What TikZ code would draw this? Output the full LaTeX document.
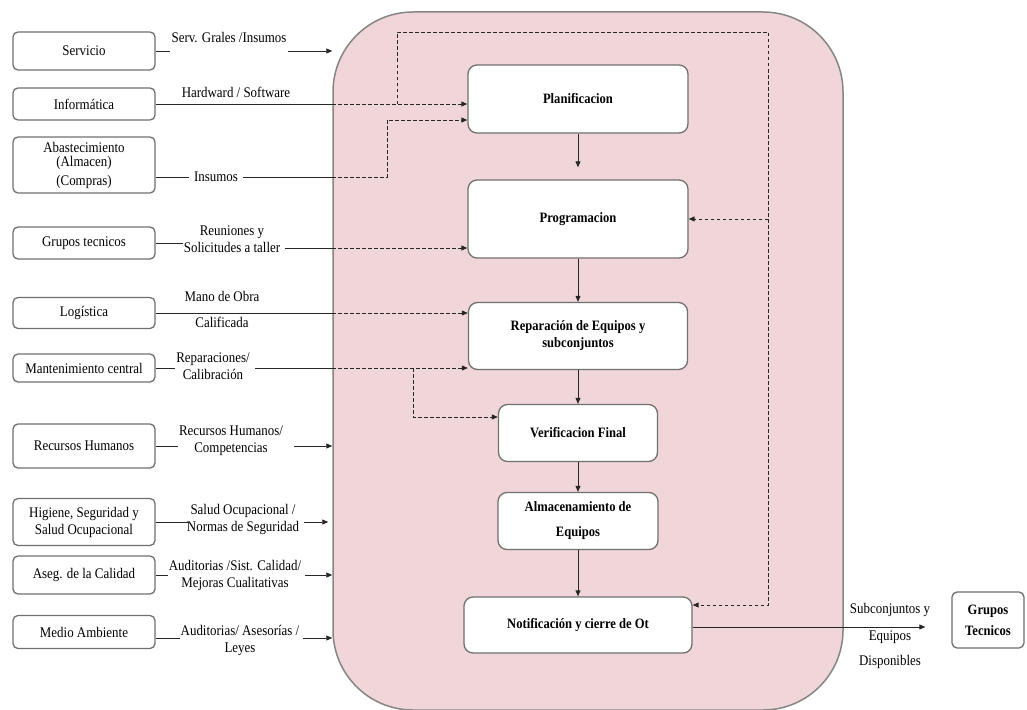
\documentclass[tikz,border=0pt]{standalone}
\usepackage{fontspec}
\setmainfont{Liberation Serif}[FakeStretch=0.88]
\usetikzlibrary{arrows.meta,calc}
\definecolor{procfill}{HTML}{F1D6D9}
\definecolor{edgegray}{HTML}{707070}
\definecolor{outergray}{HTML}{858585}
\begin{document}
\begin{tikzpicture}[x=1pt,y=-1pt,
  font=\fontsize{14.7}{17}\selectfont,
  srcbox/.style={draw=edgegray, line width=1.3pt, rounded corners=5pt,
    minimum width=142pt, align=center, inner sep=1pt, fill=white},
  stepbox/.style={draw=edgegray, line width=1.3pt, rounded corners=9pt,
    fill=white, align=center, inner sep=1pt,
    font=\fontsize{14.3}{17}\selectfont\bfseries},
  lbl/.style={align=center, inner sep=1pt},
  link/.style={draw=black!85, line width=0.9pt},
  tip/.style={-{Triangle[length=6pt,width=5pt]}},
  feed/.style={dash pattern=on 3.5pt off 2.5pt}
]
\useasboundingbox (0,0) rectangle (1027,709);

% process area
\node[draw=outergray, line width=1.5pt, fill=procfill, rounded corners=80pt,
  minimum width=510pt, minimum height=698pt, inner sep=0pt] (proc) at (588,361) {};

% source units
\node[srcbox, minimum height=38pt] (serv) at (84,51) {Servicio};
\node[srcbox, minimum height=32pt] (info) at (84,104) {Informática};
\node[srcbox, minimum height=56pt,
  font=\fontsize{14.7}{14}\selectfont] (abast) at (84,165) {Abastecimiento\\(Almacen)\\[5pt](Compras)};
\node[srcbox, minimum height=32pt] (gtec) at (84,243) {Grupos tecnicos};
\node[srcbox, minimum height=31pt] (logi) at (84,313) {Logística};
\node[srcbox, minimum height=28pt] (mant) at (84,368) {Mantenimiento central};
\node[srcbox, minimum height=44pt] (rrhh) at (84,446) {Recursos Humanos};
\node[srcbox, minimum height=47pt] (hig) at (84,522) {Higiene, Seguridad y\\Salud Ocupacional};
\node[srcbox, minimum height=38pt] (aseg) at (84,575) {Aseg. de la Calidad};
\node[srcbox, minimum height=33pt] (medio) at (84,632) {Medio Ambiente};

% input labels
\node[lbl] (servL) at (229,38) {Serv. Grales /Insumos};
\node[lbl] (infoL) at (236,92) {Hardward / Software};
\node[lbl] (abastL) at (216,177) {Insumos};
\node[lbl] (gtecL) at (232,239) {Reuniones y\\Solicitudes a taller};
\node[lbl] (logiL1) at (222,296) {Mano de Obra};
\node[lbl] (logiL2) at (222,322) {Calificada};
\node[lbl] (mantL) at (213,366) {Reparaciones/\\Calibración};
\node[lbl] (rrhhL) at (231,441) {Recursos Humanos/\\Competencias};
\node[lbl] (higL) at (243,519) {Salud Ocupacional /\\Normas de Seguridad};
\node[lbl] (asegL) at (235,575) {Auditorias /Sist. Calidad/\\Mejoras Cualitativas};
\node[lbl] (medioL) at (240,640) {Auditorias/ Asesorías /\\Leyes};

% process steps
\node[stepbox, minimum width=220pt, minimum height=68pt] (plan) at (578,99) {Planificacion};
\node[stepbox, minimum width=220pt, minimum height=78pt] (prog) at (578,219) {Programacion};
\node[stepbox, minimum width=219pt, minimum height=67pt] (rep) at (578,336) {Reparación de Equipos y\\subconjuntos};
\node[stepbox, minimum width=159pt, minimum height=57pt] (ver) at (578,433) {Verificacion Final};
\node[stepbox, minimum width=160pt, minimum height=57pt] (alm) at (578,521) {Almacenamiento de\\[8pt]Equipos};
\node[stepbox, minimum width=228pt, minimum height=56pt] (noti) at (578,625) {Notificación y cierre de Ot};

% output
\node[srcbox, minimum width=72pt, minimum height=56pt,
  font=\fontsize{14.3}{17}\selectfont\bfseries] (gt) at (988,620) {Grupos\\[4pt]Tecnicos};
\node[lbl] (outL) at (890,636) {Subconjuntos y\\[10pt]Equipos\\[8pt]Disponibles};

% routing points
\coordinate (loopL) at (397,32);
\coordinate (loopR) at (768,32);
\coordinate (bendA) at (387,0);
\coordinate (bendB) at (413,0);
\coordinate (abY) at ($(abast.east)+(0,12)$);
\coordinate (gY) at ($(prog.west)+(0,29)$);
\coordinate (mdY) at ($(medio.east)+(0,6)$);
\coordinate (oY) at ($(noti.east)+(0,2)$);

% Servicio
\draw[link] (serv.east) -- (serv.east -| servL.west);
\draw[link,tip] (servL.east |- serv.east) -- (serv.east -| proc.west);

% Informatica and the feedback loop
\draw[link] (info.east) -- (info.east -| proc.west);
\draw[link,feed,tip] (info.east -| proc.west) -- (info.east -| plan.west);
\draw[link,feed,tip] (info.east -| loopL) -- (loopL) -- (loopR) |- ($(noti.east)+(0,-20)$);
\draw[link,feed,tip] (loopR |- prog.east) -- (prog.east);

% Abastecimiento
\draw[link,shorten >=4pt] (abY -| abast.east) -- (abY -| abastL.west);
\draw[link,shorten <=4pt] (abY -| abastL.east) -- (abY -| proc.west);
\draw[link,feed,tip] (abY -| proc.west) -- (abY -| bendA) |- ($(plan.west)+(0,21)$);

% Grupos tecnicos
\draw[link] (gtec.east) -- (gtec.east -| gtecL.west);
\draw[link] ([xshift=4pt]gtecL.east |- gY) -- (gY -| proc.west);
\draw[link,feed,tip] (gY -| proc.west) -- (gY);

% Logistica
\draw[link] (logi.east) -- (logi.east -| proc.west);
\draw[link,feed,tip] (logi.east -| proc.west) -- (logi.east -| rep.west);

% Mantenimiento central
\draw[link] (mant.east) -- (mant.east -| mantL.west);
\draw[link,shorten <=4pt] (mantL.east |- mant.east) -- (mant.east -| proc.west);
\draw[link,feed,tip] (mant.east -| proc.west) -- (mant.east -| rep.west);
\draw[link,feed,tip] (mant.east -| bendB) |- ($(ver.west)+(0,-16)$);

% support inputs
\draw[link] (rrhh.east) -- (rrhh.east -| rrhhL.west);
\draw[link,tip,shorten <=10pt] (rrhhL.east |- rrhh.east) -- (rrhh.east -| proc.west);
\draw[link] (hig.east) -- ([xshift=4pt]hig.east -| higL.west);
\draw[link,tip,shorten <=4pt,shorten >=4pt] (higL.east |- hig.east) -- (hig.east -| proc.west);
\draw[link] (aseg.east) -- (aseg.east -| asegL.west);
\draw[link,tip,shorten <=3pt] (asegL.east |- aseg.east) -- (aseg.east -| proc.west);
\draw[link] (mdY -| medio.east) -- (mdY -| medioL.west);
\draw[link,tip,shorten <=3pt] (mdY -| medioL.east) -- (mdY -| proc.west);

% main flow
\draw[link,tip,shorten >=12pt] (plan.south) -- (prog.north);
\draw[link,tip] (prog.south) -- (rep.north);
\draw[link,tip] (rep.south) -- (ver.north);
\draw[link,tip] (ver.south) -- (alm.north);
\draw[link,tip] (alm.south) -- (noti.north);

% output flow
\draw[link,tip,shorten >=26pt] (oY) -- (oY -| gt.west);
\end{tikzpicture}
\end{document}
